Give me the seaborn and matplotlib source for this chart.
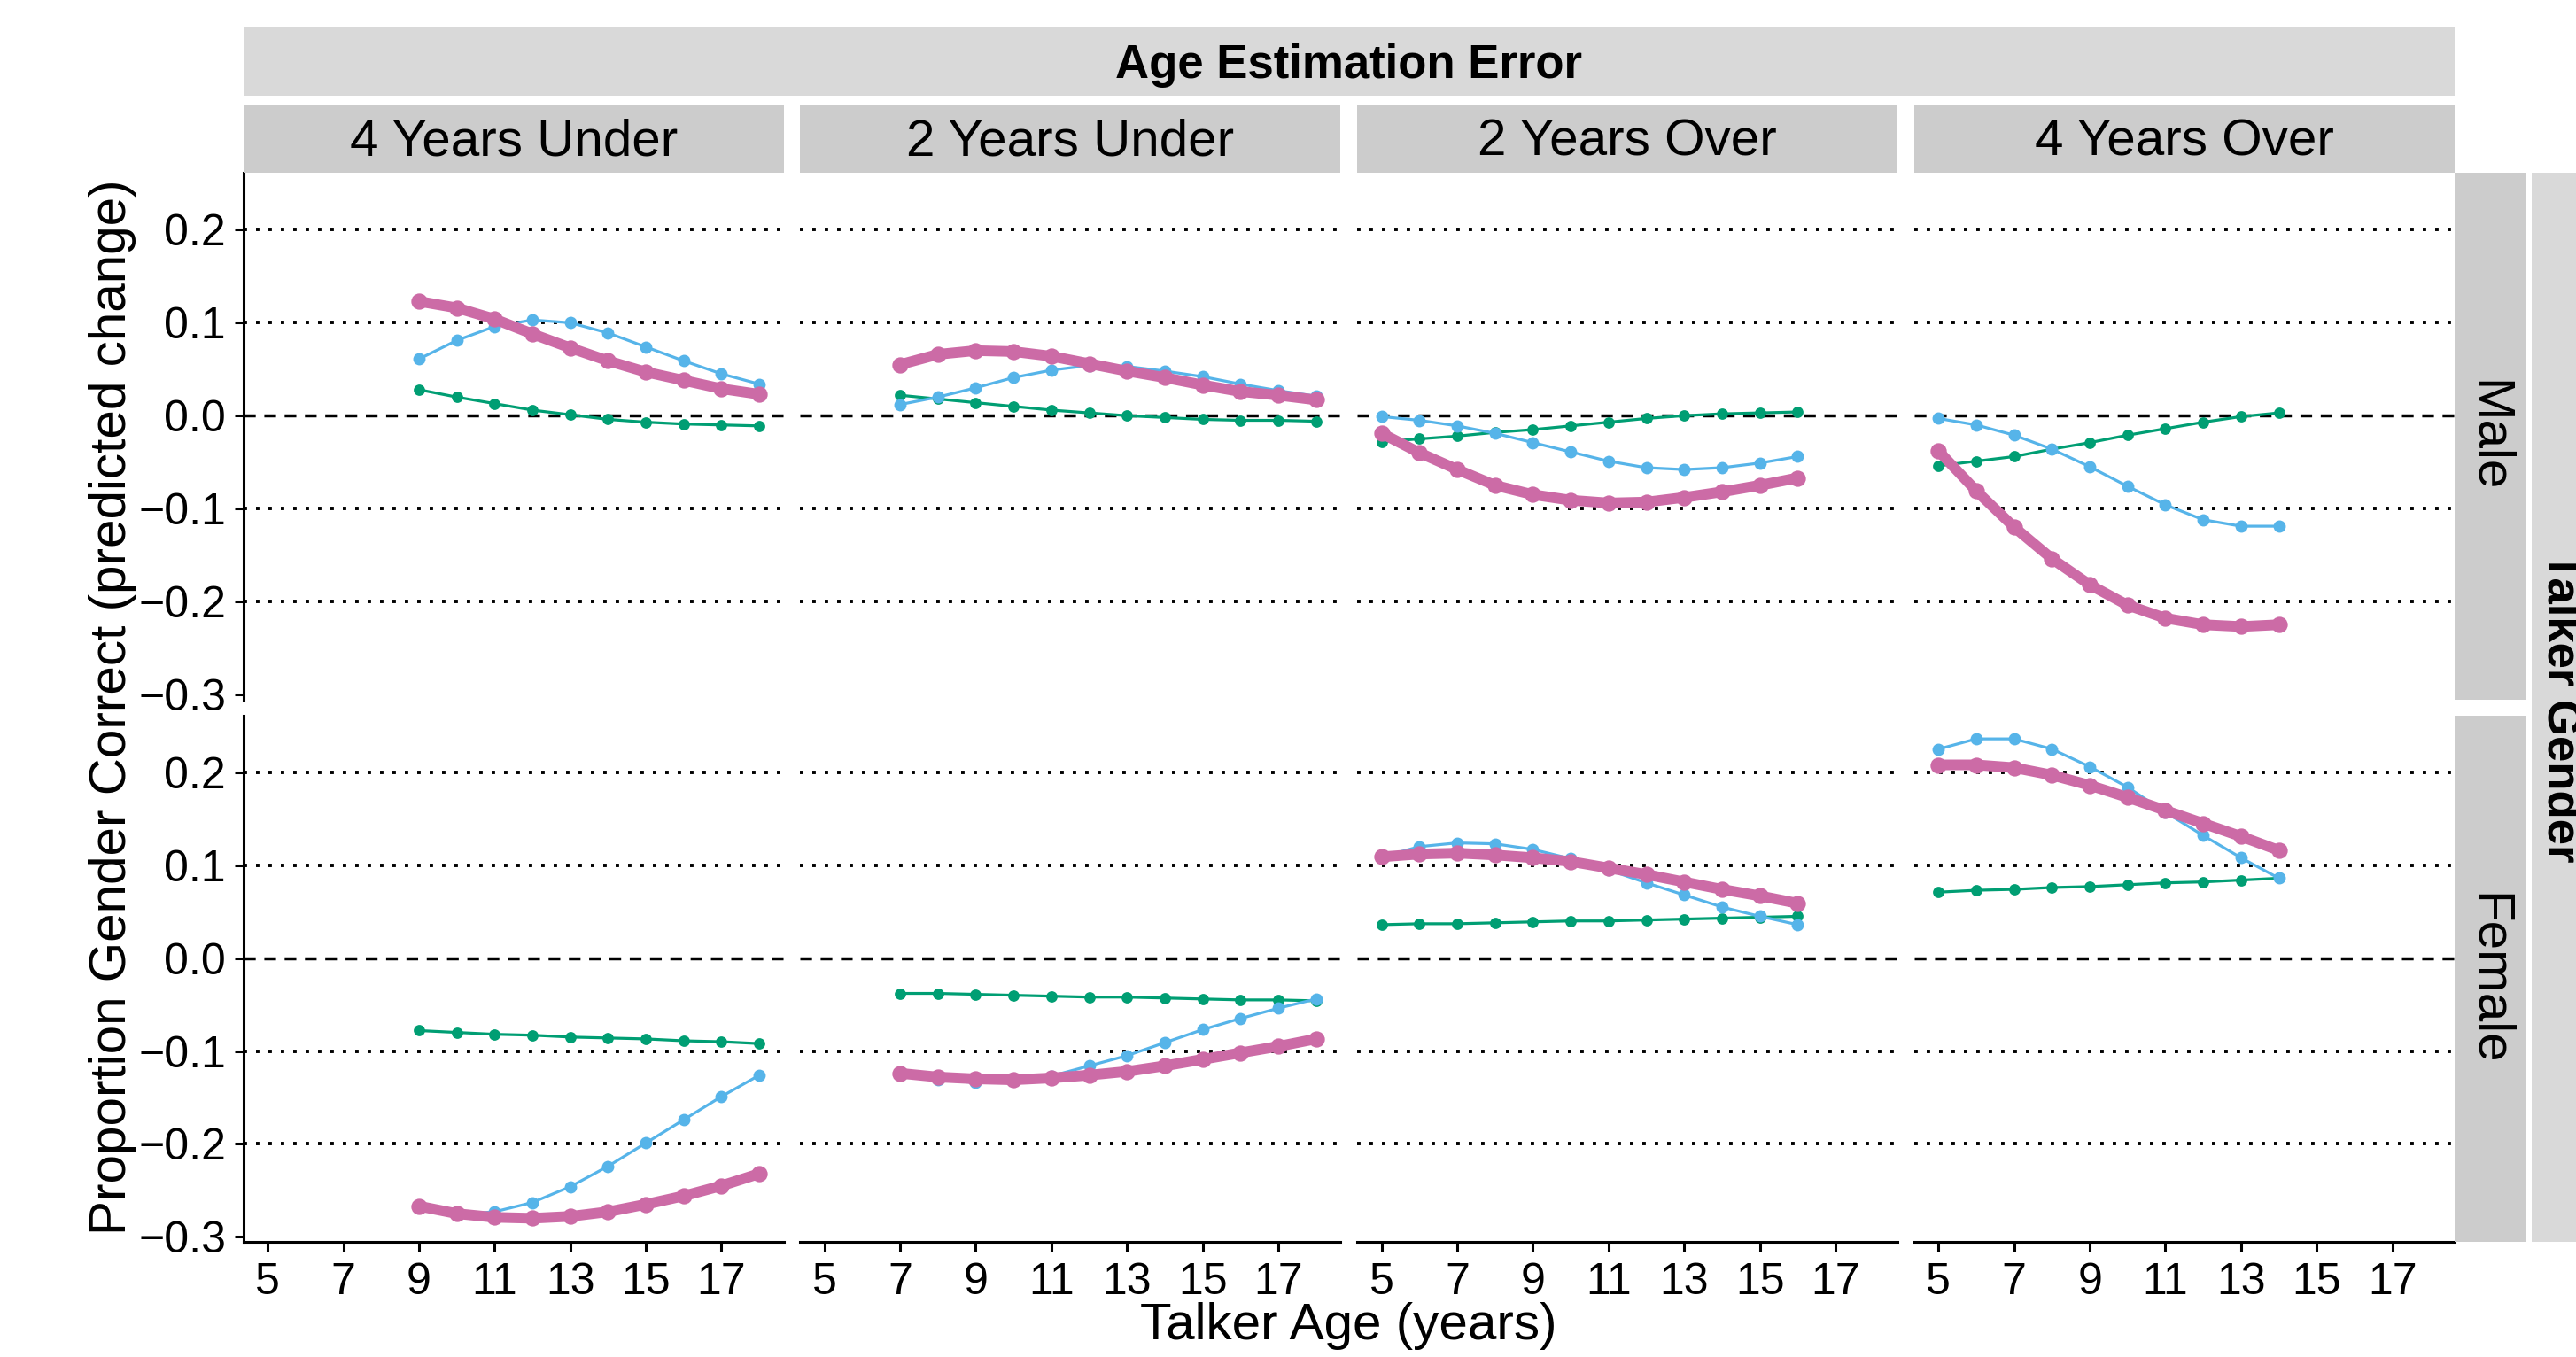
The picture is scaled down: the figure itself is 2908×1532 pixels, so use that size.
import numpy as np
import pandas as pd
import matplotlib
matplotlib.use("Agg")
import matplotlib.pyplot as plt
from matplotlib.patches import Rectangle
import seaborn as sns

sns.set_theme(style="white")
plt.rcParams['font.family'] = ['Liberation Sans', 'DejaVu Sans']
plt.rcParams['axes.unicode_minus'] = True

# ---------------- data ----------------
errors = ["4 Years Under", "2 Years Under", "2 Years Over", "4 Years Over"]
genders = ["Male", "Female"]
series = ["green", "blue", "pink"]

ages_4under = [9, 10, 11, 12, 13, 14, 15, 16, 17, 18]
ages_2under = [7, 8, 9, 10, 11, 12, 13, 14, 15, 16, 17, 18]
ages_2over = [5, 6, 7, 8, 9, 10, 11, 12, 13, 14, 15, 16]
ages_4over = [5, 6, 7, 8, 9, 10, 11, 12, 13, 14]

male_4under_pink = [0.123, 0.116, 0.104, 0.088, 0.073, 0.059, 0.047, 0.038, 0.029, 0.023]
male_4under_blue = [0.061, 0.081, 0.096, 0.103, 0.100, 0.089, 0.074, 0.059, 0.045, 0.034]
male_4under_green = [0.028, 0.020, 0.013, 0.006, 0.001, -0.004, -0.007, -0.009, -0.010, -0.011]

male_2under_pink = [0.055, 0.066, 0.070, 0.069, 0.064, 0.056, 0.048, 0.041, 0.033, 0.026, 0.022, 0.017]
male_2under_blue = [0.012, 0.020, 0.030, 0.041, 0.049, 0.054, 0.053, 0.048, 0.042, 0.034, 0.027, 0.021]
male_2under_green = [0.022, 0.018, 0.014, 0.010, 0.006, 0.003, 0.000, -0.002, -0.004, -0.005, -0.005, -0.006]

male_2over_pink = [-0.019, -0.040, -0.058, -0.075, -0.085, -0.091, -0.094, -0.093, -0.088, -0.082, -0.075, -0.067]
male_2over_blue = [-0.001, -0.005, -0.011, -0.019, -0.029, -0.039, -0.049, -0.056, -0.058, -0.056, -0.051, -0.044]
male_2over_green = [-0.028, -0.025, -0.022, -0.018, -0.015, -0.011, -0.007, -0.003, 0.000, 0.002, 0.003, 0.004]

male_4over_pink = [-0.038, -0.081, -0.120, -0.154, -0.182, -0.204, -0.218, -0.225, -0.227, -0.225]
male_4over_blue = [-0.003, -0.010, -0.021, -0.036, -0.055, -0.076, -0.096, -0.112, -0.119, -0.119]
male_4over_green = [-0.054, -0.049, -0.044, -0.036, -0.029, -0.021, -0.014, -0.007, -0.001, 0.003]

female_4under_pink = [-0.267, -0.275, -0.279, -0.280, -0.278, -0.273, -0.265, -0.256, -0.245, -0.232]
female_4under_blue = [-0.268, -0.276, -0.273, -0.263, -0.246, -0.224, -0.199, -0.174, -0.149, -0.126]
female_4under_green = [-0.078, -0.080, -0.082, -0.083, -0.085, -0.086, -0.087, -0.089, -0.090, -0.092]

female_2under_pink = [-0.124, -0.128, -0.130, -0.131, -0.129, -0.126, -0.122, -0.116, -0.109, -0.102, -0.095, -0.087]
female_2under_blue = [-0.124, -0.131, -0.134, -0.132, -0.127, -0.116, -0.105, -0.091, -0.077, -0.065, -0.054, -0.044]
female_2under_green = [-0.038, -0.038, -0.039, -0.040, -0.041, -0.042, -0.042, -0.043, -0.044, -0.045, -0.045, -0.046]

female_2over_pink = [0.109, 0.112, 0.113, 0.111, 0.108, 0.104, 0.097, 0.090, 0.082, 0.074, 0.067, 0.059]
female_2over_blue = [0.109, 0.120, 0.124, 0.123, 0.117, 0.107, 0.095, 0.081, 0.068, 0.055, 0.045, 0.036]
female_2over_green = [0.036, 0.037, 0.037, 0.038, 0.039, 0.040, 0.040, 0.041, 0.042, 0.043, 0.044, 0.045]

female_4over_pink = [0.208, 0.208, 0.205, 0.197, 0.186, 0.173, 0.159, 0.145, 0.131, 0.116]
female_4over_blue = [0.225, 0.236, 0.236, 0.225, 0.206, 0.184, 0.157, 0.132, 0.108, 0.086]
female_4over_green = [0.071, 0.073, 0.074, 0.076, 0.077, 0.079, 0.081, 0.082, 0.084, 0.086]

x_ticks = [5, 7, 9, 11, 13, 15, 17]
y_ticks = [-0.3, -0.2, -0.1, 0.0, 0.1, 0.2]

# ---------------- long table ----------------
panel_ages = {"4 Years Under": ages_4under, "2 Years Under": ages_2under,
              "2 Years Over": ages_2over, "4 Years Over": ages_4over}
panel_vals = {
    ("Male", "4 Years Under"): (male_4under_green, male_4under_blue, male_4under_pink),
    ("Male", "2 Years Under"): (male_2under_green, male_2under_blue, male_2under_pink),
    ("Male", "2 Years Over"): (male_2over_green, male_2over_blue, male_2over_pink),
    ("Male", "4 Years Over"): (male_4over_green, male_4over_blue, male_4over_pink),
    ("Female", "4 Years Under"): (female_4under_green, female_4under_blue, female_4under_pink),
    ("Female", "2 Years Under"): (female_2under_green, female_2under_blue, female_2under_pink),
    ("Female", "2 Years Over"): (female_2over_green, female_2over_blue, female_2over_pink),
    ("Female", "4 Years Over"): (female_4over_green, female_4over_blue, female_4over_pink),
}
rows = []
for (g, e), vals in panel_vals.items():
    for s, v in zip(series, vals):
        for a, y in zip(panel_ages[e], v):
            rows.append({"gender": g, "error": e, "series": s, "age": a, "value": y})
df = pd.DataFrame(rows)

colors = {"green": "#009E73", "blue": "#56B4E9", "pink": "#CC6BA6"}
lws = {"green": 1.15, "blue": 1.15, "pink": 4.3}
mss = {"green": 4.6, "blue": 5.0, "pink": 6.6}

# ---------------- layout (pixels) ----------------
W, H = 2908, 1532
DPI = 200
fig = plt.figure(figsize=(W / DPI, H / DPI), dpi=DPI)

def frect(x0, y0, x1, y1):
    return [x0 / W, 1 - y1 / H, (x1 - x0) / W, (y1 - y0) / H]

col_x0 = [274.5, 903.0, 1532.0, 2160.6]
col_w = 610.4
row_y = [(195.3, 789.6), (807.7, 1402.0)]

TICK_FS = 18
STRIP_FS = 21
TITLE_FS = 21

def fmt(v):
    s = f"{abs(v):.1f}"
    return ("\u2212" + s) if v < 0 else s

for ri, g in enumerate(genders):
    for ci, e in enumerate(errors):
        y0, y1 = row_y[ri]
        ax = fig.add_axes(frect(col_x0[ci], y0, col_x0[ci] + col_w, y1))
        ax.set_facecolor("white")
        for yv in [-0.2, -0.1, 0.1, 0.2]:
            ax.axhline(yv, color="black", lw=1.4, ls=(0, (1, 2.6)), zorder=1)
        ax.axhline(0.0, color="black", lw=1.25, ls=(0, (3.8, 2.8)), zorder=1)
        sub = df[(df.gender == g) & (df.error == e)]
        for k, s in enumerate(series):
            d = sub[sub.series == s]
            sns.lineplot(data=d, x="age", y="value", ax=ax, color=colors[s],
                         linewidth=lws[s], marker="o", markersize=mss[s],
                         markeredgewidth=0, zorder=3 + k, legend=False,
                         estimator=None, sort=False)
        ax.set_xlim(4.35, 18.65)
        ax.set_ylim(-0.3054, 0.2612)
        ax.set_xlabel("")
        ax.set_ylabel("")
        for sp in ax.spines.values():
            sp.set_visible(False)
        ax.set_yticks(y_ticks)
        ax.set_xticks(x_ticks)
        if ci == 0:
            ax.spines["left"].set_visible(True)
            ax.spines["left"].set_linewidth(1.1)
            ax.spines["left"].set_color("black")
            ax.set_yticklabels([fmt(v) for v in y_ticks])
            ax.tick_params(axis="y", left=True, length=3.5, width=1.1, pad=3.5,
                           labelsize=TICK_FS, colors="black")
        else:
            ax.tick_params(axis="y", left=False, labelleft=False)
        if ri == 1:
            ax.spines["bottom"].set_visible(True)
            ax.spines["bottom"].set_linewidth(1.1)
            ax.spines["bottom"].set_color("black")
            ax.set_xticklabels([str(v) for v in x_ticks])
            ax.tick_params(axis="x", bottom=True, length=3.8, width=1.1, pad=4.5,
                           labelsize=TICK_FS, colors="black")
        else:
            ax.tick_params(axis="x", bottom=False, labelbottom=False)

# ---------------- strips ----------------
def add_rect(x0, y0, x1, y1, color):
    x, y, w, h = frect(x0, y0, x1, y1)
    fig.patches.append(Rectangle((x, y), w, h, transform=fig.transFigure,
                                 facecolor=color, edgecolor="none", zorder=0))

# outer top strip
add_rect(274.5, 31.5, 2771.0, 107.6, "#D9D9D9")
fig.text((274.5 + 2771.0) / 2 / W, 1 - 74.0 / H, "Age Estimation Error",
         ha="center", va="center", fontsize=19, fontweight="bold", color="black")
# inner top strips
for ci, e in enumerate(errors):
    add_rect(col_x0[ci], 118.7, col_x0[ci] + col_w, 195.3, "#CCCCCC")
    fig.text((col_x0[ci] + col_w / 2) / W, 1 - 161.0 / H, e,
             ha="center", va="center", fontsize=STRIP_FS, color="black")
# right inner strips
for ri, g in enumerate(genders):
    y0, y1 = row_y[ri]
    add_rect(2771.0, y0, 2851.0, y1, "#CCCCCC")
    fig.text(2809.0 / W, 1 - (y0 + y1) / 2 / H, g, rotation=-90,
             ha="center", va="center", fontsize=STRIP_FS, color="black")
# right outer strip (runs off the canvas, as in the original)
add_rect(2858.0, row_y[0][0], 2990.0, row_y[1][1], "#D9D9D9")
fig.text(2866.0 / W, 1 - (row_y[0][0] + row_y[1][1]) / 2 / H, "Talker Gender",
         rotation=-90, ha="left", va="center", fontsize=19,
         fontweight="bold", color="black")

# ---------------- axis titles ----------------
fig.text(127.0 / W, 1 - 798.5 / H, "Proportion Gender Correct (predicted change)",
         rotation=90, ha="center", va="center", fontsize=TITLE_FS, color="black")
fig.text(1522.7 / W, 1 - 1497.0 / H, "Talker Age (years)",
         ha="center", va="center", fontsize=TITLE_FS, color="black")

fig.savefig("out.png", dpi=DPI, facecolor="white")
